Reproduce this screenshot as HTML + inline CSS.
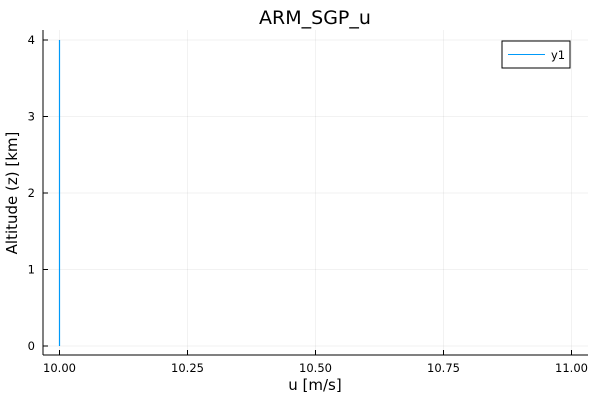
<!DOCTYPE html>
<html><head><meta charset="utf-8"><style>body{margin:0;background:#fff}svg{display:block;font-family:"DejaVu Sans","Liberation Sans",sans-serif}</style></head>
<body>
<svg id="chart" width="600" height="400">
<text x="315" y="24" font-size="19" text-anchor="middle" fill="#000">ARM_SGP_u</text>
<g id="grid"></g><g id="axes"></g><g id="marks"></g>
<text x="315" y="390" font-size="15" text-anchor="middle">u [m/s]</text>
<text transform="translate(17,193) rotate(-90)" font-size="15" text-anchor="middle">Altitude (z) [km]</text>
<g>
<rect x="502" y="41" width="68" height="27" fill="#fff" stroke="#000" stroke-width="1"/>
<line x1="508" y1="54.5" x2="545" y2="54.5" stroke="#009af9" stroke-width="1"/>
<text x="551" y="59" font-size="11.5">y1</text>
</g>
</svg>
<script>
const xTicks=[10.0,10.25,10.5,10.75,11.0];
const xTickLabels=["10.00","10.25","10.50","10.75","11.00"];
const yTicks=[0,1,2,3,4];
const yTickLabels=["0","1","2","3","4"];
const seriesU=[10.0,10.0,10.0,10.0,10.0];
const seriesZ=[0,1,2,3,4];
const NS="http://www.w3.org/2000/svg";
const L=43,R=588,T=30,B=355;
const xs=v=>59.5+(v-10)*512;
const ys=v=>346-v*76.5;
function mk(tag,attrs,parent,text){const e=document.createElementNS(NS,tag);for(const k in attrs)e.setAttribute(k,attrs[k]);if(text!=null)e.textContent=text;parent.appendChild(e);return e;}
const grid=document.getElementById('grid'),axes=document.getElementById('axes'),marks=document.getElementById('marks');
xTicks.forEach((t,i)=>{const x=xs(t);
const g=mk('line',{x1:x,y1:T,x2:x,y2:B,stroke:'#000','stroke-opacity':0.1,'stroke-width':0.5},grid);


const tk=mk('line',{x1:x,y1:B,x2:x,y2:B-5,stroke:'#000'},axes);


const lb=mk('text',{x:x,y:B+17,'font-size':11.5,'text-anchor':'middle'},axes,xTickLabels[i]);

});
yTicks.forEach((t,i)=>{const y=ys(t);
const g=mk('line',{x1:L,y1:y,x2:R,y2:y,stroke:'#000','stroke-opacity':0.1,'stroke-width':0.5},grid);


const tk=mk('line',{x1:L,y1:y,x2:L+5,y2:y,stroke:'#000'},axes);


const lb=mk('text',{x:L-8,y:y+4,'font-size':11.5,'text-anchor':'end'},axes,yTickLabels[i]);

});
const xa=mk('line',{x1:L,y1:B,x2:R,y2:B,stroke:'#000'},axes);


const ya=mk('line',{x1:L,y1:T,x2:L,y2:B,stroke:'#000'},axes);


const pts=seriesU.map((u,i)=>xs(u)+','+ys(seriesZ[i])).join(' ');
const pl=mk('polyline',{points:pts,fill:'none',stroke:'#009af9','stroke-width':1.2},marks);


</script>
</body></html>
